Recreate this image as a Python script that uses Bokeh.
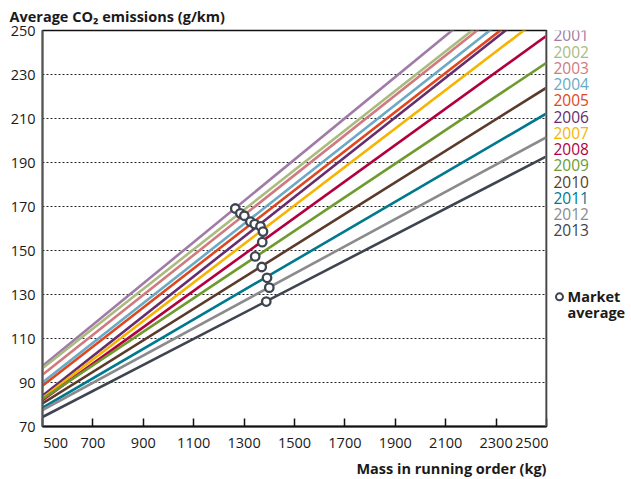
from bokeh.plotting import figure
from bokeh.layouts import row
from bokeh.models import Range1d, FixedTicker, Span, Title
from bokeh.core.properties import value
from bokeh.embed import file_html
from bokeh.resources import INLINE

# ---------------- data ----------------
years = ["2001", "2002", "2003", "2004", "2005", "2006", "2007",
         "2008", "2009", "2010", "2011", "2012", "2013"]
colors = ["#A07BA6", "#A9BB7E", "#D07A80", "#6AAAC4", "#E04620", "#652C6E",
          "#F6B400", "#B2003F", "#6E9B2D", "#5A3A2A", "#00798E", "#8B8B8E",
          "#3E4450"]
mass_ends = [500, 2500]                      # kg, ends of each fitted line
co2_at_500 = [97.5, 96.5, 93.5, 90.0, 88.5, 84.0, 83.0, 82.0, 82.5, 80.5, 78.5, 77.5, 74.3]
co2_at_2500 = [285.2, 276.6, 275.0, 270.3, 266.3, 264.7, 257.9, 247.6, 235.3, 224.0, 212.3, 201.5, 192.8]
avg_mass = [1265, 1285, 1301, 1325, 1342, 1365, 1375, 1372, 1344, 1370, 1391, 1400, 1388]
avg_co2 = [169.1, 166.9, 165.8, 163.1, 162.0, 161.0, 158.6, 153.8, 147.3, 142.5, 137.6, 133.1, 126.8]

x_ticks = [500, 700, 900, 1100, 1300, 1500, 1700, 1900, 2100, 2300, 2500]
y_ticks = [70, 90, 110, 130, 150, 170, 190, 210, 230, 250]
grid_ticks = [90, 110, 130, 150, 170, 190, 210, 230]

FONT = "Open Sans"
TXT = "#1a1a1a"
W, H = 631, 479
PW = 548
TOP, BOTTOM = 30, 49

p = figure(width=PW, height=H, output_backend="svg", toolbar_location=None,
           x_range=Range1d(500, 2500), y_range=Range1d(70, 250),
           min_border_left=42, min_border_right=2, min_border_top=TOP,
           min_border_bottom=BOTTOM)
p.background_fill_color = "white"
p.border_fill_color = "white"
p.outline_line_color = "#111111"
p.outline_line_width = 1.5

p.title = Title(text="Average CO\u2082 emissions (g/km)", align="left", offset=-33,
                standoff=9, text_font=FONT, text_font_size="14.5px",
                text_font_style="bold", text_color=TXT)
p.add_layout(Title(text="Mass in running order (kg)", align="right", offset=0,
                   standoff=4, text_font=FONT, text_font_size="14.5px",
                   text_font_style="bold", text_color=TXT), "below")

# axes
p.xaxis.ticker = FixedTicker(ticks=x_ticks)
p.xaxis.major_tick_in = 8
p.xaxis.major_tick_out = 0
p.xaxis.minor_tick_line_color = None
p.xaxis.major_tick_line_color = "#111111"
p.xaxis.major_tick_line_width = 1.5
p.xaxis.axis_line_color = "#111111"
p.xaxis.axis_line_width = 2
p.xaxis.major_label_standoff = 6
p.xaxis.major_label_text_font = FONT
p.xaxis.major_label_text_font_size = "14.5px"
p.xaxis.major_label_text_color = TXT
p.xaxis.major_label_overrides = {500: "\u00a0" * 7 + "500"}

p.yaxis.ticker = FixedTicker(ticks=y_ticks)
p.yaxis.major_tick_in = 0
p.yaxis.major_tick_out = 0
p.yaxis.minor_tick_line_color = None
p.yaxis.axis_line_color = "#555555"
p.yaxis.axis_line_width = 2
p.yaxis.major_label_standoff = 7
p.yaxis.major_label_text_font = FONT
p.yaxis.major_label_text_font_size = "14.5px"
p.yaxis.major_label_text_color = TXT

p.xgrid.grid_line_color = None
p.ygrid.ticker = FixedTicker(ticks=grid_ticks)
p.ygrid.grid_line_color = "#222222"
p.ygrid.grid_line_dash = "2 2"
p.ygrid.grid_line_width = 1

# right border in grey
p.add_layout(Span(location=2500, dimension="height", line_color="#7a7a7a", line_width=2.5))

# lines
xs = [mass_ends for _ in years]
ys = [[a, b] for a, b in zip(co2_at_500, co2_at_2500)]
p.multi_line(xs=xs, ys=ys, line_color=colors, line_width=2.6)

# market averages
p.scatter(avg_mass, avg_co2, marker="circle", size=8.5, fill_color="white",
          line_color="#3E4450", line_width=2.3)

# ---------------- side legend (pixel-like ranges, frame aligned with p) ----------------
LW = W - PW
q = figure(width=LW, height=H, output_backend="svg", toolbar_location=None,
           x_range=Range1d(0, LW), y_range=Range1d(H - BOTTOM, TOP),
           x_axis_type=None, y_axis_type=None,
           min_border_left=0, min_border_right=0, min_border_top=TOP,
           min_border_bottom=BOTTOM)
q.outline_line_color = None
q.grid.visible = False
q.background_fill_color = "white"
q.border_fill_color = "white"

row_idx = list(range(len(years)))
leg_x = [5 for _ in years]
leg_y = [35 + 16.4 * i for i in row_idx]
q.text(x=leg_x, y=leg_y, text=years, text_color=colors, text_font=value(FONT),
       text_font_size="15.5px", text_baseline="middle", text_align="left")

q.scatter([11], [299], marker="circle", size=7, fill_color="white",
          line_color="#3E4450", line_width=2)
q.text(x=[19, 19], y=[299, 315], text=["Market", "average"], text_color=TXT,
       text_font=value(FONT), text_font_size="14.5px", text_font_style="bold",
       text_baseline="middle", text_align="left")

layout = row(p, q, spacing=0)
open("out.html", "w").write(file_html(layout, INLINE))
